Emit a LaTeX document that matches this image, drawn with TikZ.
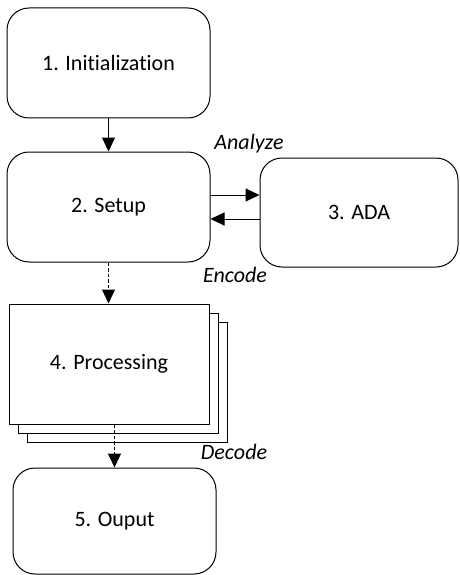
\documentclass[tikz,border=0pt]{standalone}
\usepackage{fontspec}
\setmainfont{Carlito}[Ligatures=NoCommon]
\usetikzlibrary{arrows.meta}
\begin{document}
\begin{tikzpicture}[x=1pt,y=-1pt,
  font=\fontsize{22}{26}\selectfont,
  rbox/.style={draw, line width=1pt, rounded corners=22pt, fill=white, inner sep=0pt},
  sbox/.style={draw, line width=1pt, fill=white, inner sep=0pt, minimum width=200pt, minimum height=120pt},
  arr/.style={line width=1pt, -{Triangle[length=14pt,width=13pt]}},
  darr/.style={arr, dash pattern=on 3.5pt off 2pt},
  lbl/.style={font=\fontsize{22}{26}\selectfont\itshape, inner sep=0pt}]
\useasboundingbox (0,0) rectangle (459,575);
\node[rbox, minimum width=203pt, minimum height=110pt] (b1) at (108.5,63) {1. Initialization};
\node[rbox, minimum width=203pt, minimum height=110pt] (b2) at (108.5,207) {2. Setup};
\node[rbox, minimum width=198pt, minimum height=109pt] (b3) at (359,212.5) {3. ADA};
\node[sbox] (p3) at (127,382) {};
\node[sbox] (p2) at (118,373) {};
\node[sbox] (b4) at (109,364) {4. Processing};
\node[rbox, minimum width=203pt, minimum height=106pt] (b5) at (114.5,521) {5. Ouput};
\draw[arr] (b1.south) -- (b2.north);
\draw[arr] (b2.east |- 0,195) -- (b3.west |- 0,195);
\draw[arr] (b3.west |- 0,219) -- (b2.east |- 0,219);
\draw[darr] (b2.south) -- (b2.south |- b4.north);
\draw[darr] (b5.north |- b4.south) -- (b5.north);
\node[lbl] (la) at (249,144) {Analyze};
\node[lbl] (le) at (235,275) {Encode};
\node[lbl] (ld) at (234,452) {Decode};
\end{tikzpicture}
\end{document}
